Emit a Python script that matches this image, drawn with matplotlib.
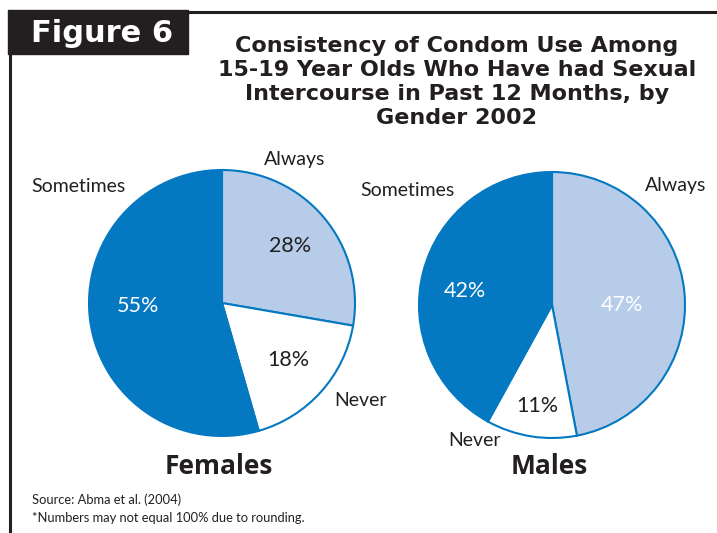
import matplotlib.pyplot as plt
from matplotlib.patches import Rectangle

groups = ['Females', 'Males']
categories = ['Always', 'Never', 'Sometimes']
females = [28, 18, 55]
males = [47, 11, 42]
pct_labels = [['28%', '18%', '55%'], ['47%', '11%', '42%']]

blue = '#0479c1'
light = '#b7cce9'
colors = [light, 'white', blue]

W, H = 717, 533
fig = plt.figure(figsize=(W / 100, H / 100), dpi=100)
ax = fig.add_axes([0, 0, 1, 1])

def y(v):
    return H - v

# frame
ax.add_patch(Rectangle((8, y(54)), 180, 44, color='#231f20', zorder=3))
ax.text(102, y(33), 'Figure 6', color='white', fontsize=22, fontweight='heavy',
        ha='center', va='center', zorder=4)
ax.plot([188, W], [y(12), y(12)], color='#231f20', lw=2.2)
ax.plot([10, 10], [y(54), 0], color='#231f20', lw=2.2)

title = ['Consistency of Condom Use Among',
         '15-19 Year Olds Who Have had Sexual',
         'Intercourse in Past 12 Months, by',
         'Gender 2002']
for i, line in enumerate(title):
    ax.text(457, y(46 + i * 24), line, fontsize=16, fontweight='heavy',
            ha='center', va='center', color='#231f20')

centers = [(222, y(303)), (552, y(305))]
for vals, c in zip([females, males], centers):
    ax.pie(vals, colors=colors, startangle=90, counterclock=False,
           center=c, radius=133, frame=True,
           wedgeprops=dict(edgecolor=blue, linewidth=1.5))
ax.set_xlim(0, W)
ax.set_ylim(0, H)
ax.set_aspect('auto')
ax.axis('off')

lab = dict(fontsize=14, family='Lato', color='#231f20', ha='center', va='center')
# Females labels
ax.text(295, y(160), 'Always', **lab)
ax.text(78, y(187), 'Sometimes', **lab)
ax.text(361, y(400), 'Never', **lab)
pct = dict(fontsize=15.5, family='Lato', ha='center', va='center')
ax.text(290, y(246), pct_labels[0][0], color='#231f20', **pct)
ax.text(288, y(360), pct_labels[0][1], color='#231f20', **pct)
ax.text(138, y(306), pct_labels[0][2], color='white', **pct)
# Males labels
ax.text(676, y(186), 'Always', **lab)
ax.text(407, y(190), 'Sometimes', **lab)
ax.text(475, y(440), 'Never', **lab)
ax.text(622, y(305), pct_labels[1][0], color='white', **pct)
ax.text(537, y(406), pct_labels[1][1], color='#231f20', **pct)
ax.text(465, y(291), pct_labels[1][2], color='white', **pct)

for g, (cx, _) in zip(groups, centers):
    ax.text(cx - 3, y(467), g, fontsize=19, fontweight='bold', family='Open Sans',
            ha='center', va='center', color='#231f20')

ax.text(32, y(500), 'Source: Abma et al. (2004)', fontsize=9.3, family='Lato',
        ha='left', va='center', color='#231f20')
ax.text(32, y(518), '*Numbers may not equal 100% due to rounding.', fontsize=9.3,
        family='Lato', ha='left', va='center', color='#231f20')

fig.savefig('out.png', dpi=100)
